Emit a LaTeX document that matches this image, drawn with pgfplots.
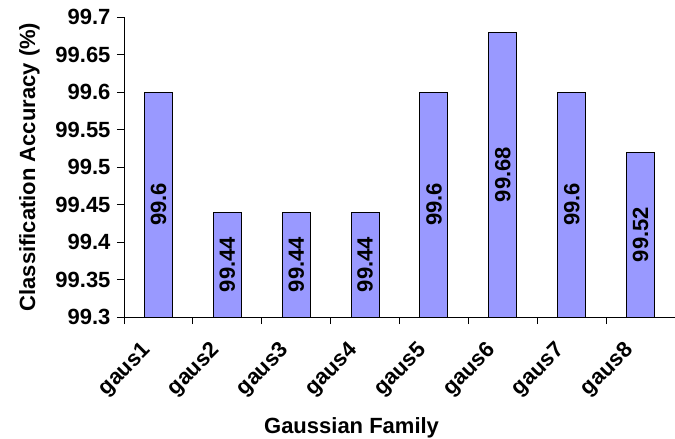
\documentclass[border=0pt]{standalone}
\usepackage{fontspec}
\setmainfont{Liberation Sans}
\usepackage{pgfplots}
\usepackage{pgfplotstable}
\pgfplotsset{compat=1.18}
\definecolor{barfill}{HTML}{9999FF}
\pgfplotstableread{
x y label
1 99.60 99.6
2 99.44 99.44
3 99.44 99.44
4 99.44 99.44
5 99.60 99.6
6 99.68 99.68
7 99.60 99.6
8 99.52 99.52
}\accdata
\begin{document}
\begin{tikzpicture}
\begin{axis}[
  at={(0,0)}, anchor=south west,
  scale only axis, width=551bp, height=300bp,
  xmin=0.5, xmax=8.5, ymin=99.3, ymax=99.7,
  axis x line=bottom, axis y line=left,
  axis line style={-, line width=0.9bp, black},
  ytick={99.3,99.35,99.4,99.45,99.5,99.55,99.6,99.65,99.7},
  yticklabels={99.3,99.35,99.4,99.45,99.5,99.55,99.6,99.65,99.7},
  xtick={0.5,1.5,2.5,3.5,4.5,5.5,6.5,7.5,8.5},
  xticklabels={},
  extra x ticks={1,2,3,4,5,6,7,8},
  extra x tick labels={gaus1,gaus2,gaus3,gaus4,gaus5,gaus6,gaus7,gaus8},
  extra x tick style={major tick length=0pt,
    xticklabel style={xshift=-8bp, yshift=-28bp, rotate=45, anchor=east}},
  tick align=outside, major tick length=7bp,
  tick style={black, line width=0.9bp},
  tick label style={font=\fontsize{22bp}{26bp}\selectfont\bfseries},
  yticklabel style={xshift=-3bp},
  xlabel={Gaussian Family},
  xlabel style={at={(axis description cs:0.413,-0.387)}, anchor=base,
    font=\fontsize{22bp}{26bp}\selectfont\bfseries},
  ylabel={Classification Accuracy (\%)},
  ylabel style={at={(axis description cs:-0.1615,0.5)}, anchor=base, rotate=0,
    font=\fontsize{22bp}{26bp}\selectfont\bfseries},
  clip=true,
]
\addplot[ybar, bar width=28bp, fill=barfill, draw=black, line width=0.9bp,
  nodes near coords, point meta=explicit symbolic,
  visualization depends on={\thisrow{y} \as \rawy},
  every node near coord/.append style={
    shift={(axis direction cs:0,{-(\rawy-99.3)/2})},
    rotate=90, anchor=center, black,
    font=\fontsize{22bp}{26bp}\selectfont\bfseries}
] table[x=x, y=y, meta=label] {\accdata};
\end{axis}
\pgfresetboundingbox
\path[use as bounding box] (-124bp,-122bp) rectangle (551bp,317bp);
\end{tikzpicture}
\end{document}
